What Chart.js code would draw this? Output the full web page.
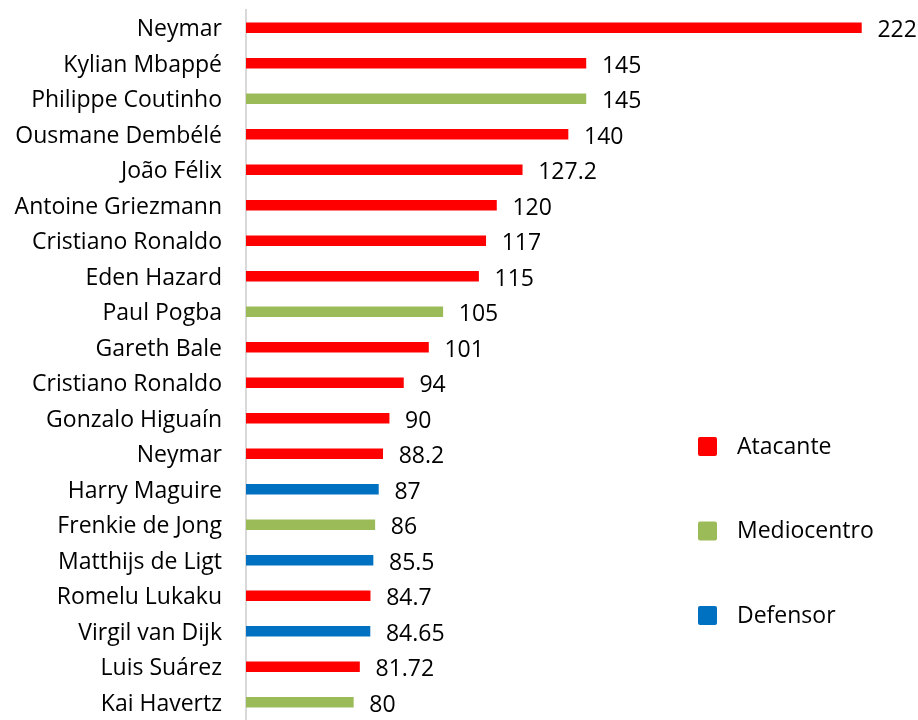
<!DOCTYPE html>
<html>
<head>
<meta charset="utf-8">
<script src="https://cdn.jsdelivr.net/npm/chart.js@4/dist/chart.umd.min.js"></script>
<style>
  html, body { margin: 0; padding: 0; background: #fff; }
  #wrap { position: relative; width: 918px; height: 720px; }
</style>
</head>
<body>
<div id="wrap"><canvas id="chart" width="918" height="720"></canvas></div>
<script>
// players ordered as in the picture (top to bottom)
const players = [
    'Neymar', 'Kylian Mbappé', 'Philippe Coutinho', 'Ousmane Dembélé', 'João Félix',
    'Antoine Griezmann', 'Cristiano Ronaldo', 'Eden Hazard', 'Paul Pogba', 'Gareth Bale',
    'Cristiano Ronaldo', 'Gonzalo Higuaín', 'Neymar', 'Harry Maguire', 'Frenkie de Jong',
    'Matthijs de Ligt', 'Romelu Lukaku', 'Virgil van Dijk', 'Luis Suárez', 'Kai Havertz'
];
const fees = [222, 145, 145, 140, 127.2, 120, 117, 115, 105, 101, 94, 90, 88.2, 87, 86, 85.5, 84.7, 84.65, 81.72, 80];
const positions = ['A', 'A', 'M', 'A', 'A', 'A', 'A', 'A', 'M', 'A', 'A', 'A', 'A', 'D', 'M', 'D', 'A', 'D', 'A', 'M'];
const positionNames = { A: 'Atacante', M: 'Mediocentro', D: 'Defensor' };
const positionColors = { A: '#ff0000', M: '#9bbb59', D: '#0070c0' };

const FONT = '"Open Sans", Lato, sans-serif';
const FONT_SIZE = 23;

// valores al final de cada barra
const valueLabels = {
    id: 'valueLabels',
    afterDatasetsDraw(chart) {
        const ctx = chart.ctx;
        const meta = chart.getDatasetMeta(0);
        ctx.save();
        ctx.font = FONT_SIZE + 'px ' + FONT;
        ctx.fillStyle = '#000';
        ctx.textAlign = 'left';
        ctx.textBaseline = 'middle';
        meta.data.forEach((bar, i) => {
            ctx.fillText(String(fees[i]), bar.x + 16, bar.y + 3);
        });
        ctx.restore();
    }
};

// leyenda a la derecha, dentro del área del gráfico
const sideLegend = {
    id: 'sideLegend',
    afterDraw(chart) {
        const ctx = chart.ctx;
        const keys = ['A', 'M', 'D'];
        ctx.save();
        ctx.font = FONT_SIZE + 'px ' + FONT;
        ctx.textBaseline = 'middle';
        keys.forEach((k, i) => {
            const cy = 447 + i * 84.5;
            ctx.fillStyle = positionColors[k];
            ctx.beginPath();
            ctx.roundRect(698, cy - 10, 19, 19, 2);
            ctx.fill();
            ctx.fillStyle = '#000';
            ctx.fillText(positionNames[k], 737, cy);
        });
        ctx.restore();
    }
};

new Chart(document.getElementById('chart'), {
    type: 'bar',
    data: {
        labels: players,
        datasets: [{
            data: fees,
            backgroundColor: positions.map(p => positionColors[p]),
            barThickness: 10
        }]
    },
    options: {
        indexAxis: 'y',
        responsive: false,
        animation: false,
        layout: { padding: { top: 10, right: 28, bottom: 0, left: 0 } },
        plugins: {
            legend: { display: false },
            tooltip: { enabled: false }
        },
        scales: {
            x: {
                display: false,
                min: 50,
                max: 230
            },
            y: {
                afterFit: s => { s.width = 246; s.paddingTop = 0; s.paddingBottom = 0; },
                grid: { display: false, drawTicks: false },
                border: { display: true, color: '#d9d9d9', width: 2 },
                ticks: {
                    padding: 24,
                    labelOffset: 2,
                    color: '#000',
                    font: { family: FONT, size: FONT_SIZE }
                }
            }
        }
    },
    plugins: [valueLabels, sideLegend]
});
</script>
</body>
</html>
